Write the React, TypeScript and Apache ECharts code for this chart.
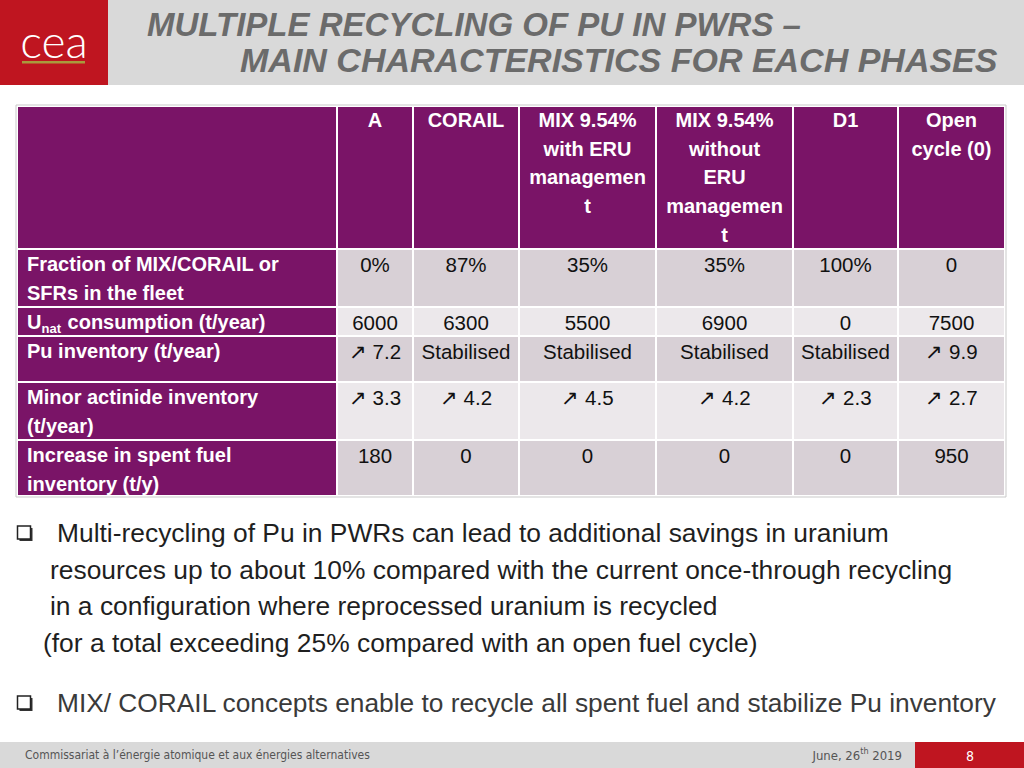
import React, { useEffect, useRef } from "react";
import * as echarts from "echarts";

// ---------- data ----------
const titleLines = ["MULTIPLE RECYCLING OF PU IN PWRS –", "MAIN CHARACTERISTICS FOR EACH PHASES"];
const columnHeaders: string[][] = [
  ["A"],
  ["CORAIL"],
  ["MIX 9.54%", "with ERU", "managemen", "t"],
  ["MIX 9.54%", "without", "ERU", "managemen", "t"],
  ["D1"],
  ["Open", "cycle (0)"],
];
const rowLabels: string[][] = [
  ["Fraction of MIX/CORAIL or", "SFRs in the fleet"],
  ["U|nat| consumption (t/year)"],
  ["Pu inventory (t/year)"],
  ["Minor actinide inventory", "(t/year)"],
  ["Increase in spent fuel", "inventory (t/y)"],
];
const fractionRow = ["0%", "87%", "35%", "35%", "100%", "0"];
const unatRow = ["6000", "6300", "5500", "6900", "0", "7500"];
const puRow = ["↗ 7.2", "Stabilised", "Stabilised", "Stabilised", "Stabilised", "↗ 9.9"];
const minorActinideRow = ["↗ 3.3", "↗ 4.2", "↗ 4.5", "↗ 4.2", "↗ 2.3", "↗ 2.7"];
const spentFuelRow = ["180", "0", "0", "0", "0", "950"];
const tableRows = [fractionRow, unatRow, puRow, minorActinideRow, spentFuelRow];
const bodyLines = [
  "Multi-recycling of Pu in PWRs can lead to additional savings in uranium",
  "resources up to about 10% compared with the current once-through recycling",
  "in a configuration where reprocessed uranium is recycled",
  "(for a total exceeding 25% compared with an open fuel cycle)",
];
const bullet2 = "MIX/ CORAIL concepts enable to recycle all spent fuel and stabilize Pu inventory";
const footerText = "Commissariat à l’énergie atomique et aux énergies alternatives";
const footerDate = ["June, 26", "th", " 2019"];
const pageNumber = "8";

// ---------- layout ----------
const colEdges = [17, 337, 413, 519, 656, 793, 898, 1005];
const rowEdges = [106, 249, 307, 336, 382, 440, 496];
const PURPLE = "#7a1467";
const RED = "#bf1520";
const GRAY = "#d9d9d9";
const darkCell = "#d8d0d6";
const lightCell = "#ece8eb";
const SANS = "'Liberation Sans', Arial, sans-serif";
const NARROW = "'Liberation Sans Narrow', 'DejaVu Sans Condensed', 'Liberation Sans', sans-serif";

function buildGraphics() {
  const els: any[] = [];
  // header band
  els.push({ type: "rect", shape: { x: 0, y: 0, width: 1024, height: 85 }, style: { fill: GRAY } });
  els.push({ type: "rect", shape: { x: 0, y: 0, width: 108, height: 85 }, style: { fill: RED } });
  els.push({
    type: "text", x: 54, y: 40,
    style: { text: "cea", fontFamily: "Lato, 'Open Sans', sans-serif", fontWeight: 300, fontSize: 46, fill: "#fff", align: "center", verticalAlign: "middle" },
  });
  els.push({ type: "rect", shape: { x: 22, y: 61, width: 63, height: 2.5 }, style: { fill: "#a99a3c" } });
  els.push({
    type: "text", x: 147, y: 24,
    style: { text: titleLines[0], fontFamily: SANS, fontWeight: "bold", fontStyle: "italic", fontSize: 33, fill: "#6b6b6b", align: "left", verticalAlign: "middle" },
  });
  els.push({
    type: "text", x: 240, y: 60,
    style: { text: titleLines[1], fontFamily: SANS, fontWeight: "bold", fontStyle: "italic", fontSize: 34, fill: "#6b6b6b", align: "left", verticalAlign: "middle" },
  });

  // table frame
  els.push({
    type: "rect",
    shape: { x: colEdges[0] - 1, y: rowEdges[0] - 1, width: colEdges[colEdges.length - 1] - colEdges[0] + 2, height: rowEdges[rowEdges.length - 1] - rowEdges[0] + 2 },
    style: { fill: "#fff", stroke: "#c9c9c9", lineWidth: 1 },
  });
  const nRows = rowEdges.length - 1;
  const nCols = colEdges.length - 1;
  for (let r = 0; r < nRows; r++) {
    for (let c = 0; c < nCols; c++) {
      const x0 = colEdges[c] + 1, x1 = colEdges[c + 1] - 1;
      const y0 = rowEdges[r] + 1, y1 = rowEdges[r + 1] - 1;
      let fill = PURPLE;
      if (r > 0 && c > 0) fill = r % 2 === 1 ? darkCell : lightCell;
      els.push({ type: "rect", shape: { x: x0, y: y0, width: x1 - x0, height: y1 - y0 }, style: { fill } });
    }
  }
  const LH = 28.7;
  // column headers
  columnHeaders.forEach((lines, i) => {
    const cx = (colEdges[i + 1] + colEdges[i + 2]) / 2;
    lines.forEach((ln, k) => {
      els.push({
        type: "text", x: cx, y: 120 + k * LH,
        style: { text: ln, fontFamily: SANS, fontWeight: "bold", fontSize: 20, fill: "#fff", align: "center", verticalAlign: "middle" },
      });
    });
  });
  // row labels + values
  tableRows.forEach((vals, r) => {
    const top = rowEdges[r + 1];
    const y = top + 15;
    rowLabels[r].forEach((ln, k) => {
      if (ln.includes("|")) {
        const [a, sub, rest] = ln.split("|");
        els.push({ type: "text", x: 27, y, style: { text: a, fontFamily: SANS, fontWeight: "bold", fontSize: 20, fill: "#fff", align: "left", verticalAlign: "middle" } });
        els.push({ type: "text", x: 41.5, y: y + 6, style: { text: sub, fontFamily: SANS, fontWeight: "bold", fontSize: 13, fill: "#fff", align: "left", verticalAlign: "middle" } });
        els.push({ type: "text", x: 62, y, style: { text: rest, fontFamily: SANS, fontWeight: "bold", fontSize: 20, fill: "#fff", align: "left", verticalAlign: "middle" } });
      } else {
        els.push({
          type: "text", x: 27, y: y + k * LH,
          style: { text: ln, fontFamily: SANS, fontWeight: "bold", fontSize: 20, fill: "#fff", align: "left", verticalAlign: "middle" },
        });
      }
    });
    vals.forEach((v, c) => {
      const cx = (colEdges[c + 1] + colEdges[c + 2]) / 2;
      els.push({
        type: "text", x: cx, y,
        style: { text: v, fontFamily: SANS, fontSize: 20.5, fill: "#111", align: "center", verticalAlign: "middle" },
      });
    });
  });

  // bullets
  const box = (y: number) => {
    els.push({ type: "rect", shape: { x: 19.5, y: y - 5, width: 13, height: 13 }, style: { fill: "#333" } });
    els.push({ type: "rect", shape: { x: 17.5, y: y - 7, width: 13, height: 13 }, style: { fill: "#fff", stroke: "#222", lineWidth: 1.5 } });
  };
  box(533);
  const bodyX = [57, 50, 50, 43];
  const bodyY = [533, 570, 606, 643];
  bodyLines.forEach((ln, i) => {
    els.push({ type: "text", x: bodyX[i], y: bodyY[i], style: { text: ln, fontFamily: SANS, fontSize: 26.4, fill: "#1f1f1f", align: "left", verticalAlign: "middle" } });
  });
  box(703);
  els.push({ type: "text", x: 57, y: 703, style: { text: bullet2, fontFamily: SANS, fontSize: 26.3, fill: "#3a3a3a", align: "left", verticalAlign: "middle" } });

  // footer
  els.push({ type: "rect", shape: { x: 0, y: 742, width: 915, height: 26 }, style: { fill: GRAY } });
  els.push({ type: "rect", shape: { x: 915, y: 742, width: 109, height: 26 }, style: { fill: RED } });
  els.push({ type: "text", x: 25, y: 755, style: { text: footerText, fontFamily: NARROW, fontSize: 12, fill: "#555", align: "left", verticalAlign: "middle" } });
  els.push({
    type: "text", x: 902, y: 755,
    style: {
      text: `{a|${footerDate[0]}}{b|${footerDate[1]}}{a|${footerDate[2]}}`,
      align: "right", verticalAlign: "middle",
      rich: {
        a: { fontFamily: NARROW, fontSize: 13, fill: "#555" },
        b: { fontFamily: NARROW, fontSize: 9, fill: "#555", padding: [0, 0, 8, 0] },
      },
    },
  });
  els.push({ type: "text", x: 970, y: 756, style: { text: pageNumber, fontFamily: NARROW, fontSize: 14, fill: "#fff", align: "center", verticalAlign: "middle" } });
  return els;
}

export default function App() {
  const ref = useRef<HTMLDivElement>(null);
  useEffect(() => {
    document.body.style.margin = "0";
    const chart = echarts.init(ref.current!, undefined, { renderer: "svg" });
    chart.setOption({
      animation: false,
      backgroundColor: "#ffffff",
      graphic: { elements: buildGraphics() },
    });
    return () => chart.dispose();
  }, []);
  return <div ref={ref} style={{ position: "fixed", left: 0, top: 0, width: 1024, height: 768 }} />;
}
